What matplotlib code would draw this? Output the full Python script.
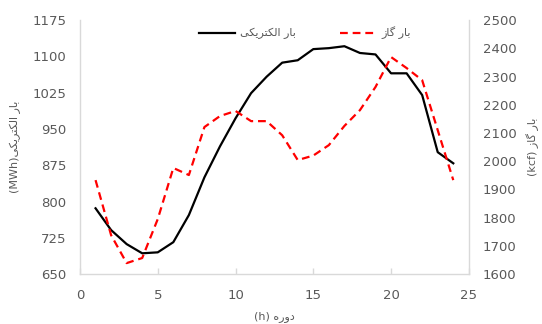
import numpy as np
import matplotlib
matplotlib.use('Agg')
from matplotlib import pyplot as plt

plt.rcParams['font.family'] = ['DejaVu Sans']

## data
hours = list(range(1, 25))
electricLoad = [786, 741, 712, 693, 695, 716, 772, 850, 914, 972, 1024, 1058,
                1087, 1092, 1115, 1117, 1121, 1107, 1104, 1065, 1065, 1020, 902, 879]
gasLoad = [1933, 1738, 1639, 1657, 1795, 1976, 1951, 2121, 2160, 2178, 2142, 2142,
           2092, 2004, 2020, 2057, 2125, 2181, 2263, 2369, 2330, 2287, 2110, 1933]

xTicks = [0, 5, 10, 15, 20, 25]
leftTicks = [650, 725, 800, 875, 950, 1025, 1100, 1175]
rightTicks = [1600, 1700, 1800, 1900, 2000, 2100, 2200, 2300, 2400, 2500]

# persian text in visual order with presentation forms (no shaping in matplotlib)
electricName = '\uFBFD\uFB91\uFBFE\uFEAE\uFE98\uFB91\uFEDF\uFE8D \uFEAD\uFE8E\uFE91'
gasName = '\uFEAF\uFE8E\uFB94 \uFEAD\uFE8E\uFE91'
periodName = '\uFEE9\uFEAD\uFEED\uFEA9'

textColor = '#595959'
spineColor = '#d9d9d9'

## figure
fig = plt.figure(figsize=(5.42, 3.24), dpi=100)
ax = fig.add_axes([0.1476, 0.154, 0.7174, 0.784])
ax2 = ax.twinx()

lineElec, = ax.plot(hours, electricLoad, color='black', linewidth=1.6)
lineGas, = ax2.plot(hours, gasLoad, color='#ff0000', linewidth=1.6, dashes=(3.5, 2.2))

ax.set_xlim(0, 25)
ax.set_ylim(650, 1175)
ax2.set_ylim(1600, 2500)
ax.set_xticks(xTicks)
ax.set_yticks(leftTicks)
ax2.set_yticks(rightTicks)

for a in (ax, ax2):
    for side in ('top', 'left', 'right', 'bottom'):
        a.spines[side].set_visible(False)
ax.spines['left'].set_visible(True)
ax.spines['bottom'].set_visible(True)
ax2.spines['right'].set_visible(True)
for sp in (ax.spines['left'], ax.spines['bottom'], ax2.spines['right']):
    sp.set_color(spineColor)
    sp.set_linewidth(1.0)

ax.tick_params(axis='both', colors=spineColor, labelcolor=textColor, labelsize=9.5,
               direction='in', length=4, width=1)
ax.tick_params(axis='y', length=0, pad=10)
ax2.tick_params(axis='y', colors=spineColor, labelcolor=textColor, labelsize=9.5,
                direction='in', length=0, pad=10)
ax.tick_params(axis='x', pad=11)

ax.set_xlabel('(h) ' + periodName, color=textColor, fontsize=8, labelpad=6)
ax.set_ylabel('(MWh)' + electricName, color=textColor, fontsize=8, labelpad=8)
ax2.set_ylabel('(kcf) ' + gasName, color=textColor, fontsize=8, labelpad=7, rotation=90)

leg = ax.legend([lineElec, lineGas], [electricName, gasName], ncol=2, frameon=False,
                loc='center', bbox_to_anchor=(0.578, 0.949), fontsize=8,
                handlelength=3.3, columnspacing=4.0, handletextpad=0.4)
for t in leg.get_texts():
    t.set_color(textColor)

fig.savefig('out.png', dpi=100)
